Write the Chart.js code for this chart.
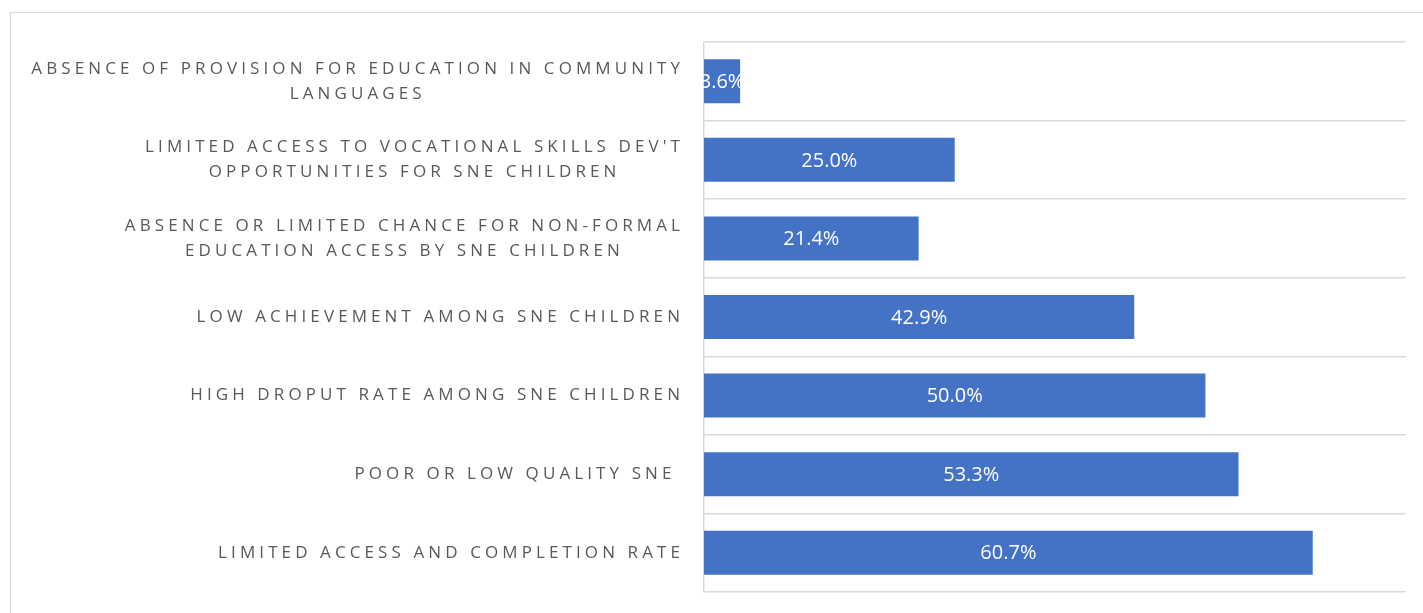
<!DOCTYPE html>
<html>
<head>
<meta charset="utf-8">
<script src="https://cdn.jsdelivr.net/npm/chart.js@4/dist/chart.umd.min.js"></script>
<style>
  html, body { margin: 0; padding: 0; background: #fff; overflow: hidden; }
  #frame { position: absolute; left: 10px; top: 12px; width: 1500px; height: 700px; border: 1.5px solid #d9d9d9; }
  #wrap { position: absolute; left: 0; top: 0; width: 1423px; height: 613px; }
</style>
</head>
<body>
<div id="frame"></div>
<div id="wrap"><canvas id="c"></canvas></div>
<script>
'use strict';
// categories, top to bottom (multi-line labels as arrays)
const categories = [
  ['ABSENCE OF PROVISION FOR EDUCATION IN COMMUNITY', 'LANGUAGES'],
  ["LIMITED ACCESS TO VOCATIONAL SKILLS DEV'T", 'OPPORTUNITIES FOR SNE CHILDREN'],
  ['ABSENCE OR LIMITED CHANCE FOR NON-FORMAL', 'EDUCATION ACCESS BY SNE CHILDREN'],
  ['LOW ACHIEVEMENT AMONG SNE CHILDREN'],
  ['HIGH DROPUT RATE AMONG SNE CHILDREN'],
  ['POOR OR LOW QUALITY SNE '],
  ['LIMITED ACCESS AND COMPLETION RATE'],
];
const values = [3.6, 25.0, 21.4, 42.9, 50.0, 53.3, 60.7];
const xMax = 70;

const LABEL_RIGHT = 682;
const SPACING = 4.1;
const labelPlugin = {
  id: 'catLabels',
  afterDraw(chart) {
    const ctx = chart.ctx, ys = chart.scales.y;
    ctx.save();
    ctx.font = '17px "Open Sans"';
    ctx.fillStyle = '#595959';
    ctx.letterSpacing = SPACING + 'px';
    ctx.textBaseline = 'middle';
    ctx.textAlign = 'center';
    categories.forEach((lines, i) => {
      const yc = ys.getPixelForValue(i);
      const maxW = Math.max(...lines.map(l => ctx.measureText(l).width));
      const cx = LABEL_RIGHT - maxW / 2;
      const lh = 25;
      lines.forEach((l, j) => {
        const y = yc + (j - (lines.length - 1) / 2) * lh;
        // letterSpacing adds trailing space; shift by half to keep centring
        ctx.fillText(l, cx + SPACING / 2, y);
      });
    });
    ctx.restore();
  },
  afterDatasetsDraw(chart) {
    const ctx = chart.ctx;
    const meta = chart.getDatasetMeta(0);
    ctx.save();
    ctx.font = '20px "Open Sans"';
    ctx.fillStyle = '#ffffff';
    ctx.textAlign = 'center';
    ctx.textBaseline = 'middle';
    meta.data.forEach((bar, i) => {
      ctx.fillText(values[i].toFixed(1) + '%', (bar.x + bar.base) / 2, bar.y + 1);
    });
    ctx.restore();
  }
};

new Chart(document.getElementById('c'), {
  type: 'bar',
  data: {
    labels: categories,
    datasets: [{
      data: values,
      backgroundColor: '#4472C4',
      borderWidth: 0,
      barPercentage: 0.56,
      categoryPercentage: 1,
    }],
  },
  options: {
    indexAxis: 'y',
    responsive: true,
    maintainAspectRatio: false,
    animation: false,
    layout: { padding: { left: 704, top: 42, right: 17, bottom: 21 } },
    scales: {
      x: { display: false, min: 0, max: xMax },
      y: {
        ticks: { display: false },
        grid: { color: '#d9d9d9', lineWidth: 1.5, drawTicks: false, offset: true },
        border: { display: true, color: '#d9d9d9', width: 1.5 },
        afterFit: (s) => { s.width = 0; },
      },
    },
    plugins: { legend: { display: false }, tooltip: { enabled: false } },
  },
  plugins: [labelPlugin],
});
</script>
</body>
</html>
